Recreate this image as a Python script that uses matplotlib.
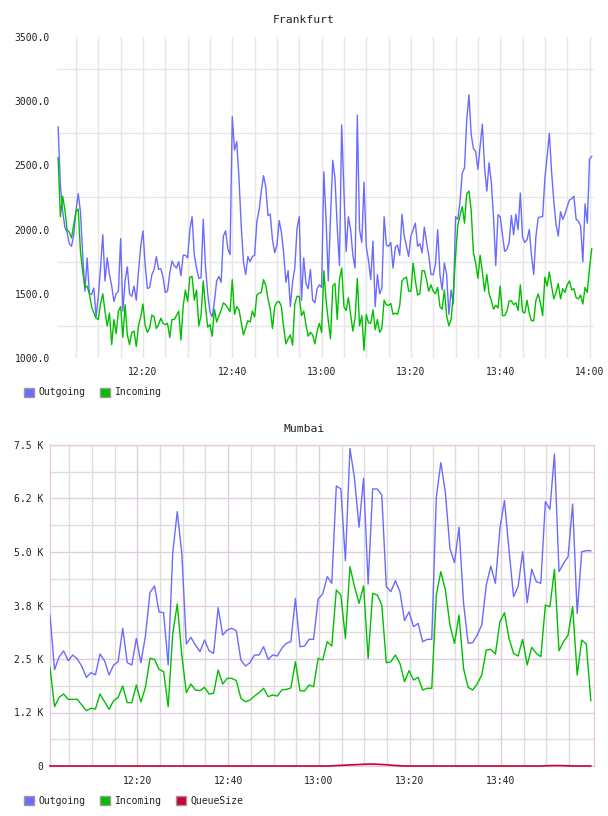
import numpy as np
import matplotlib
matplotlib.use("Agg")
import matplotlib.pyplot as plt
from matplotlib.patches import Patch
from matplotlib.ticker import FixedLocator, FuncFormatter, NullFormatter

# Frankfurt: samples every 30 s, first one at 12:01 (x = minutes after 12:00)
fra_start = 1.0
fra_step = 0.5
fra_outgoing = [
    2800, 2350, 2150, 2020, 1980, 1890, 1870, 1960, 2150, 2280,
    2140, 1800, 1520, 1780, 1500, 1495, 1545, 1320, 1480, 1700,
    1960, 1600, 1780, 1650, 1560, 1440, 1500, 1520, 1930, 1365,
    1600, 1710, 1500, 1480, 1560, 1450, 1675, 1870, 1990, 1720,
    1540, 1550, 1650, 1690, 1790, 1690, 1695, 1630, 1510, 1520,
    1660, 1755, 1720, 1700, 1750, 1640, 1800, 1800, 1780, 2000,
    2100, 1800, 1700, 1620, 1625, 2080, 1710, 1500, 1360, 1320,
    1440, 1600, 1635, 1590, 1950, 1990, 1850, 1805, 2880, 2620,
    2685, 2400, 2030, 1750, 1650, 1790, 1750, 1790, 1800, 2060,
    2150, 2300, 2420, 2330, 2110, 2120, 1920, 1820, 1880, 2070,
    1980, 1820, 1590, 1680, 1400, 1590, 1700, 2010, 2100, 1450,
    1780, 1580, 1540, 1690, 1450, 1430, 1540, 1570, 1550, 2450,
    2080, 1600, 2100, 2540, 2400, 2020, 1720, 2815, 2300, 1830,
    2100, 2000, 1800, 1700, 2890, 2000, 1900, 2370, 1870, 1760,
    1610, 1910, 1400, 1650, 1500, 1545, 2100, 1880, 1870, 1900,
    1700, 1860, 1880, 1800, 2120, 1950, 1870, 1790, 1950, 2000,
    2050, 1870, 1890, 1820, 2020, 1900, 1800, 1650, 1650, 1730,
    2000, 1650, 1530, 1740, 1650, 1340, 1530, 1420, 2100, 2080,
    2220, 2440, 2480, 2850, 3050, 2740, 2630, 2610, 2470, 2650,
    2820, 2480, 2300, 2520, 2370, 2100, 1720, 2115, 2100, 1960,
    1830, 1845, 1900, 2110, 1960, 2120, 2000, 2285, 1940, 1900,
    1920, 2000, 1800, 1650, 1950, 2090, 2100, 2100, 2400, 2570,
    2750, 2450, 2220, 2040, 1950, 2140, 2080, 2120, 2180, 2230,
    2240, 2260, 2080, 2065, 2030, 1750, 2200, 2050, 2550, 2570,
]
fra_incoming = [
    2560, 2100, 2260, 2160, 2000, 1980, 1935, 2040, 2140, 2160,
    1830, 1675, 1550, 1560, 1500, 1400, 1350, 1310, 1300, 1420,
    1500, 1365, 1250, 1350, 1105, 1300, 1190, 1365, 1400, 1160,
    1415, 1180, 1105, 1200, 1210, 1090, 1250, 1320, 1420, 1250,
    1200, 1235, 1335, 1320, 1230, 1260, 1310, 1270, 1260, 1270,
    1160, 1300, 1300, 1330, 1365, 1140, 1400, 1530, 1440, 1630,
    1635, 1450, 1530, 1250, 1330, 1600, 1400, 1240, 1260, 1170,
    1380, 1280, 1330, 1370, 1430, 1415, 1390, 1360, 1610, 1340,
    1400, 1375, 1280, 1180, 1235, 1290, 1280, 1365, 1320, 1490,
    1505, 1510, 1610, 1565, 1460, 1380, 1230, 1400, 1435, 1440,
    1400, 1240, 1110, 1150, 1180, 1100, 1420, 1480, 1480, 1330,
    1365, 1260, 1170, 1200, 1180, 1110, 1210, 1270, 1200, 1680,
    1450, 1290, 1150, 1560, 1580, 1300, 1610, 1700, 1400, 1370,
    1470, 1340, 1210, 1310, 1620, 1250, 1330, 1060, 1340, 1275,
    1270, 1375, 1220, 1300, 1200, 1230, 1450, 1415, 1410, 1425,
    1340, 1350, 1340, 1410, 1600, 1620, 1630, 1520, 1520, 1740,
    1600, 1490, 1500, 1680, 1680, 1610, 1520, 1570, 1520, 1500,
    1550, 1400, 1380, 1530, 1330, 1250, 1300, 1500, 1800, 2030,
    2110, 2180, 2050, 2280, 2300, 2150, 1820, 1740, 1620, 1800,
    1670, 1520, 1650, 1500, 1450, 1380, 1410, 1390, 1560, 1330,
    1330, 1365, 1445, 1445, 1415, 1430, 1370, 1570, 1360, 1350,
    1450, 1350, 1290, 1290, 1450, 1500, 1430, 1330, 1630, 1560,
    1670, 1560, 1460, 1510, 1580, 1460, 1540, 1510, 1570, 1600,
    1530, 1540, 1470, 1460, 1490, 1420, 1550, 1510, 1700, 1850,
]

# Mumbai: one sample per minute
mum_start = 0.8
mum_step = 1.0
mum_outgoing = [
    3527, 2250, 2550, 2690, 2460, 2593, 2500, 2330, 2071, 2180,
    2130, 2616, 2460, 2126, 2360, 2437, 3216, 2414, 2360, 2982,
    2414, 3037, 4050, 4206, 3600, 3580, 2360, 4968, 5943, 4968,
    2850, 3005, 2827, 2671, 2943, 2694, 2632, 3700, 3060, 3177,
    3216, 3161, 2476, 2336, 2414, 2593, 2593, 2788, 2492, 2593,
    2570, 2749, 2866, 2905, 3914, 2788, 2800, 2960, 2960, 3900,
    4018, 4424, 4268, 6543, 6473, 4797, 7421, 6722, 5578, 6722,
    4252, 6473, 6473, 6333, 4190, 4073, 4330, 4073, 3400, 3600,
    3255, 3333, 2905, 2959, 2959, 6278, 7088, 6387, 5085, 4750,
    5578, 3800, 2866, 2881, 3060, 3294, 4229, 4673, 4268, 5554,
    6200, 5046, 3956, 4190, 5007, 3816, 4595, 4307, 4268, 6177,
    5998, 7290, 4540, 4735, 4891, 6122, 3566, 5007, 5030, 5030,
]
mum_incoming = [
    2305, 1386, 1604, 1682, 1557, 1557, 1557, 1425, 1293, 1347,
    1332, 1682, 1503, 1324, 1526, 1604, 1869, 1480, 1480, 1892,
    1495, 1838, 2515, 2492, 2258, 2204, 1386, 3084, 3784, 2593,
    1713, 1916, 1776, 1760, 1838, 1682, 1698, 2243, 1916, 2048,
    2048, 1994, 1581, 1503, 1542, 1635, 1713, 1815, 1620, 1659,
    1635, 1776, 1791, 1822, 2437, 1760, 1750, 1892, 1853, 2515,
    2476, 2905, 2803, 4111, 3994, 2982, 4657, 4190, 3800, 4206,
    2515, 4034, 3994, 3760, 2414, 2437, 2593, 2398, 1970, 2227,
    2009, 2071, 1776, 1815, 1815, 3994, 4540, 4111, 3294, 2866,
    3527, 2274, 1838, 1776, 1916, 2126, 2710, 2725, 2616, 3371,
    3582, 2982, 2632, 2570, 2959, 2360, 2772, 2632, 2554, 3760,
    3722, 4595, 2694, 2905, 3060, 3722, 2126, 2943, 2850, 1526,
]
mum_queue = [
    0, 0, 0, 0, 0, 0, 0, 0, 0, 0, 0, 0, 0, 0, 0, 0, 0, 0, 0, 0,
    0, 0, 0, 0, 0, 0, 0, 0, 0, 0, 0, 0, 0, 0, 0, 0, 0, 0, 0, 0,
    0, 0, 0, 0, 0, 0, 0, 0, 0, 0, 0, 0, 0, 0, 0, 0, 0, 0, 0, 0,
    0, 0, 5, 10, 15, 20, 25, 30, 35, 40, 45, 45, 40, 35, 30, 20, 12, 6, 0, 0,
    0, 0, 0, 0, 0, 0, 0, 0, 0, 0, 0, 0, 0, 0, 0, 0, 0, 0, 0, 0,
    0, 0, 0, 0, 0, 0, 0, 0, 0, 5, 8, 10, 10, 8, 5, 0, 0, 0, 0, 0,
]

time_ticks = [20, 40, 60, 80, 100, 120]
fra_yticks = [1000, 1500, 2000, 2500, 3000, 3500]
mum_yticks = [0, 1250, 2500, 3750, 5000, 6250, 7500]

BLUE = '#6b6bff'
GREEN = '#00bf00'
RED = '#cc0033'
GRID = '#e6e6e6'
PURPLE = '#e2cce2'
TXT = '#222222'
FONT = 'DejaVu Sans Mono'

plt.rcParams['font.family'] = FONT


def hhmm(m, pos=None):
    m = int(round(m))
    return f"{12 + m // 60}:{m % 60:02d}"


def kfmt(v, pos=None):
    return "0" if v == 0 else f"{v / 1000:.1f} K"


fig = plt.figure(figsize=(6.08, 8.16), dpi=100)
W, H = 608.0, 816.0

# ---------------- Frankfurt ----------------
ax1 = fig.add_axes([57 / W, 1 - 358 / H, 537 / W, 321 / H])
t1 = fra_start + fra_step * np.arange(len(fra_outgoing))
ax1.plot(t1, fra_outgoing, color=BLUE, lw=1.0, zorder=3)
ax1.plot(t1, fra_incoming, color=GREEN, lw=1.0, zorder=4)
ax1.set_xlim(0.75, 121.0)
ax1.set_ylim(1000, 3500)

ax1.xaxis.set_major_locator(FixedLocator(time_ticks))
ax1.xaxis.set_major_formatter(FuncFormatter(hhmm))
ax1.xaxis.set_minor_locator(FixedLocator(list(range(5, 125, 5))))
ax1.yaxis.set_major_locator(FixedLocator(fra_yticks))
ax1.yaxis.set_major_formatter(FuncFormatter(lambda v, p: f"{v:.1f}"))
ax1.yaxis.set_minor_locator(FixedLocator([1250, 1750, 2250, 2750, 3250]))
ax1.grid(True, axis='x', which='both', color=GRID, lw=1.0, zorder=0)
ax1.grid(True, axis='y', which='minor', color=GRID, lw=1.0, zorder=0)
ax1.set_axisbelow(True)
for s in ax1.spines.values():
    s.set_visible(False)
ax1.tick_params(which='both', length=0, labelsize=7, colors=TXT)
ax1.tick_params(axis='x', pad=6.5)
ax1.tick_params(axis='y', pad=5)

fig.text(0.5, 1 - 20 / H, "Frankfurt", ha='center', va='center',
         fontsize=8.2, color=TXT)

fig.legend(handles=[Patch(facecolor=BLUE, edgecolor='#999999', label='Outgoing'),
                    Patch(facecolor=GREEN, edgecolor='#999999', label='Incoming')],
           loc='center left', bbox_to_anchor=(24 / W, 1 - 392.5 / H), ncol=2,
           frameon=False, fontsize=7, handlelength=1.0, handleheight=1.0,
           handletextpad=0.5, columnspacing=1.5, borderpad=0, borderaxespad=0,
           labelcolor=TXT)

# ---------------- Mumbai ----------------
ax2 = fig.add_axes([50 / W, 1 - 766 / H, 544 / W, 321 / H])
t2 = mum_start + mum_step * np.arange(len(mum_outgoing))
ax2.plot(t2, mum_outgoing, color=BLUE, lw=1.0, zorder=3)
ax2.plot(t2, mum_incoming, color=GREEN, lw=1.0, zorder=4)
ax2.plot(t2, mum_queue, color=RED, lw=1.2, zorder=5, clip_on=False)
ax2.set_xlim(0.8, 120.5)
ax2.set_ylim(0, 7500)

ax2.xaxis.set_major_locator(FixedLocator(time_ticks[:-1]))
ax2.xaxis.set_major_formatter(FuncFormatter(hhmm))
ax2.xaxis.set_minor_locator(FixedLocator([m for m in range(5, 120, 5) if m % 20]))
ax2.yaxis.set_major_locator(FixedLocator(mum_yticks))
ax2.yaxis.set_major_formatter(FuncFormatter(kfmt))
ax2.yaxis.set_minor_locator(FixedLocator([625, 1875, 3125, 4375, 5625, 6875]))
ax2.grid(True, which='minor', color='#dddddd', lw=1.0, zorder=0)
ax2.grid(True, which='major', color=PURPLE, lw=1.0, zorder=1)
ax2.set_axisbelow(True)
for s in ax2.spines.values():
    s.set_color(PURPLE)
    s.set_linewidth(1.0)
ax2.tick_params(which='both', length=0, labelsize=7, colors=TXT)
ax2.tick_params(axis='x', pad=7)
ax2.tick_params(axis='y', pad=5)

fig.text(0.5, 1 - 429 / H, "Mumbai", ha='center', va='center',
         fontsize=8.2, color=TXT)

fig.legend(handles=[Patch(facecolor=BLUE, edgecolor='#999999', label='Outgoing'),
                    Patch(facecolor=GREEN, edgecolor='#999999', label='Incoming'),
                    Patch(facecolor=RED, edgecolor='#999999', label='QueueSize')],
           loc='center left', bbox_to_anchor=(24 / W, 1 - 800.5 / H), ncol=3,
           frameon=False, fontsize=7, handlelength=1.0, handleheight=1.0,
           handletextpad=0.5, columnspacing=1.5, borderpad=0, borderaxespad=0,
           labelcolor=TXT)

fig.savefig("out.png", dpi=100)
